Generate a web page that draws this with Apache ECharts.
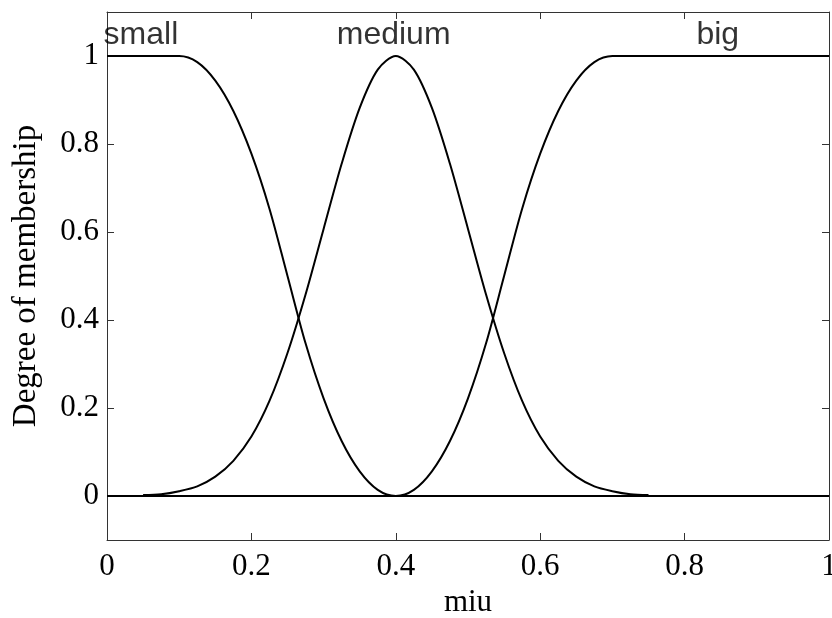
<!DOCTYPE html>
<html>
<head>
<meta charset="utf-8">
<script src="https://cdn.jsdelivr.net/npm/echarts@6/dist/echarts.min.js"></script>
<style>
html,body{margin:0;padding:0;background:#fff;}
#chart{width:832px;height:618px;}
</style>
</head>
<body>
<div id="chart"></div>
<script>
// x grid shared by "small" and "big"
var xFull = [0,0.025,0.05,0.075,0.1,0.125,0.15,0.175,0.2,0.225,0.25,0.275,0.3,0.325,0.35,0.375,0.4,
  0.425,0.45,0.475,0.5,0.525,0.55,0.575,0.6,0.625,0.65,0.675,0.7,0.725,0.75,0.775,0.8,0.825,0.85,0.875,0.9,0.925,0.95,0.975,1];
var smallVals = [1,1,1,1,1,0.986,0.944,0.875,0.778,0.653,0.5,0.347,0.222,0.125,0.056,0.014,0,
  0,0,0,0,0,0,0,0,0,0,0,0,0,0,0,0,0,0,0,0,0,0,0,0];
var bigVals = [0,0,0,0,0,0,0,0,0,0,0,0,0,0,0,0,0,
  0.014,0.056,0.125,0.222,0.347,0.5,0.653,0.778,0.875,0.944,0.986,1,1,1,1,1,1,1,1,1,1,1,1,1];
// "medium" is drawn on 0.05 .. 0.75
var xMedium = [0.05,0.075,0.1,0.125,0.15,0.175,0.2,0.225,0.25,0.275,0.3,0.325,0.35,0.375,0.4,
  0.425,0.45,0.475,0.5,0.525,0.55,0.575,0.6,0.625,0.65,0.675,0.7,0.725,0.75];
var mediumVals = [0.002,0.004,0.011,0.022,0.044,0.08,0.135,0.216,0.325,0.458,0.607,0.755,0.882,0.969,1,
  0.969,0.882,0.755,0.607,0.458,0.325,0.216,0.135,0.08,0.044,0.022,0.011,0.004,0.002];
// curve names and where they are written
var curveNames = ['small','medium','big'];
var nameX = [0.047,0.397,0.846];
var nameY = [1.048,1.048,1.048];
// tick labels
var xTicks = [0,0.2,0.4,0.6,0.8,1];
var yTicks = [0,0.2,0.4,0.6,0.8,1];

function pairs(xs, ys){ return xs.map(function(x,i){return [x, ys[i]];}); }

var lineStyle = {color:'#000', width:2};
var frameLine = {show:true, onZero:false, lineStyle:{color:'#333', width:1}};
var tickStyle = {show:true, inside:true, length:7, lineStyle:{color:'#333', width:1}};
var serif = 'Liberation Serif, Times New Roman, serif';

var chart = echarts.init(document.getElementById('chart'), null, {renderer:'canvas'});
chart.setOption({
  animation:false,
  backgroundColor:'#fff',
  grid:{left:107, right:3, top:12, bottom:78, containLabel:false, outerBoundsMode:'none'},
  xAxis:[{
    type:'value', min:0, max:1, interval:0.2, position:'bottom',
    axisLine:frameLine, axisTick:tickStyle, splitLine:{show:false},
    axisLabel:{color:'#000', fontFamily:serif, fontSize:31, margin:11,
      customValues:xTicks, formatter:function(v){return String(v);}},
    name:'miu', nameLocation:'middle', nameGap:44,
    nameTextStyle:{color:'#000', fontFamily:serif, fontSize:31}
  },{
    type:'value', min:0, max:1, interval:0.2, position:'top',
    axisLine:frameLine, axisTick:tickStyle, splitLine:{show:false}, axisLabel:{show:false}
  }],
  yAxis:[{
    type:'value', min:-0.1, max:1.1, position:'left',
    axisLine:frameLine,
    axisTick:{show:true, inside:true, length:7, lineStyle:{color:'#333', width:1}, customValues:yTicks},
    splitLine:{show:false},
    axisLabel:{color:'#000', fontFamily:serif, fontSize:31, margin:8, customValues:yTicks,
      formatter:function(v){return String(v);}},
    name:'Degree of membership', nameLocation:'middle', nameGap:64, nameRotate:90,
    nameTextStyle:{color:'#000', fontFamily:serif, fontSize:33}
  },{
    type:'value', min:-0.1, max:1.1, position:'right',
    axisLine:frameLine,
    axisTick:{show:true, inside:true, length:7, lineStyle:{color:'#333', width:1}, customValues:yTicks},
    splitLine:{show:false}, axisLabel:{show:false}
  }],
  series:[
    {type:'line', name:'small', data:pairs(xFull, smallVals), showSymbol:false, smooth:0.3,
      lineStyle:lineStyle, itemStyle:{color:'#000'}, z:3},
    {type:'line', name:'big', data:pairs(xFull, bigVals), showSymbol:false, smooth:0.3,
      lineStyle:lineStyle, itemStyle:{color:'#000'}, z:3},
    {type:'line', name:'medium', data:pairs(xMedium, mediumVals), showSymbol:false, smooth:0.3,
      lineStyle:lineStyle, itemStyle:{color:'#000'}, z:3},
    {type:'scatter', data:curveNames.map(function(n,i){return [nameX[i], nameY[i], n];}),
      symbolSize:0, silent:true, z:5,
      label:{show:true, position:'inside', color:'#000', textBorderWidth:0,
        fontFamily:'Liberation Sans, Arial, sans-serif', fontSize:32,
        formatter:function(p){return p.data[2];}}}
  ]
});
</script>
</body>
</html>
